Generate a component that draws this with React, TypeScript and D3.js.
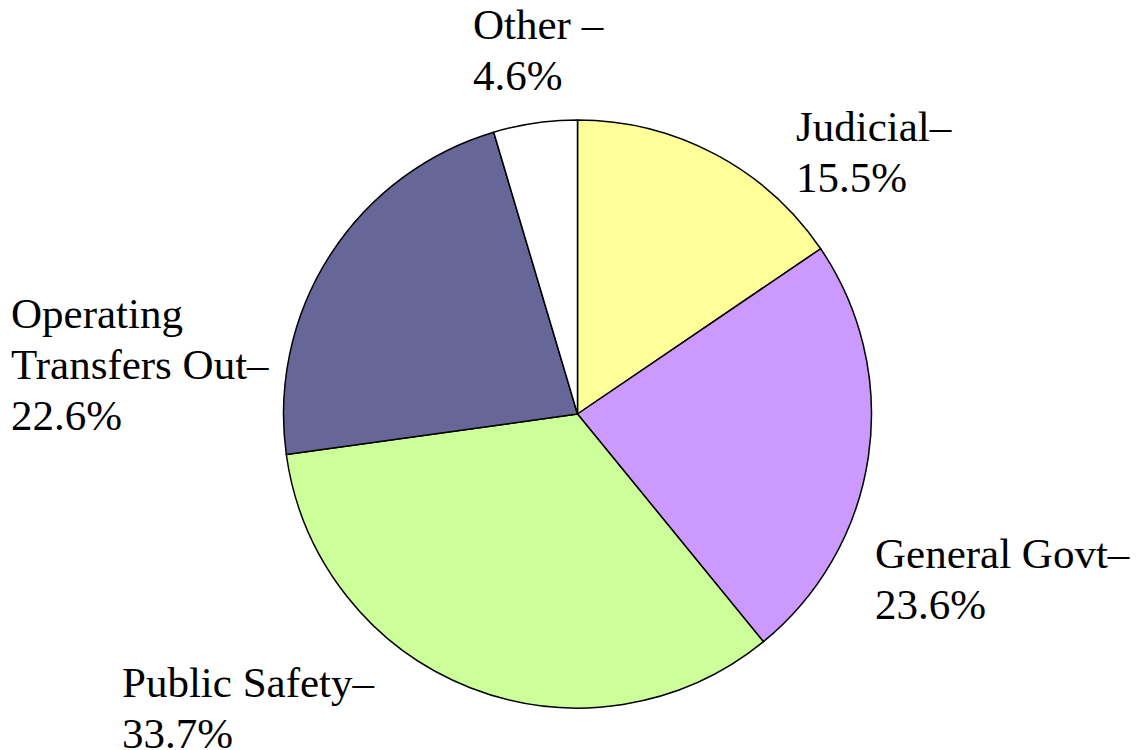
import { useRef, useEffect } from 'react'
import * as d3 from 'd3'

// slices, clockwise from 12 o'clock
const categories = ['Judicial', 'General Govt', 'Public Safety', 'Operating Transfers Out', 'Other']
const shares = [15.5, 23.6, 33.7, 22.6, 4.6]
const colors = ['#FFFF99', '#CC99FF', '#CCFF99', '#666699', '#FFFFFF']
// label lines as shown on the slide
const labelLines = [
  ['Judicial–', '15.5%'],
  ['General Govt–', '23.6%'],
  ['Public Safety–', '33.7%'],
  ['Operating', 'Transfers Out–', '22.6%'],
  ['Other –', '4.6%'],
]
// label anchor (left x, first baseline)
const labelAnchors: [number, number][] = [
  [796, 141],
  [875, 568],
  [122, 697],
  [11, 328],
  [473, 39],
]

export default function App() {
  const svgRef = useRef<SVGSVGElement>(null)

  useEffect(() => {
    if (!svgRef.current) return
    const w = 1138
    const h = 750
    const svg = d3.select(svgRef.current)
    svg.selectAll('*').remove()
    svg.attr('width', w).attr('height', h)

    const cx = 577.5
    const cy = 414
    const r = 294

    const data = categories.map((c, i) => ({ name: c, value: shares[i], i }))
    const pie = d3
      .pie<{ name: string; value: number; i: number }>()
      .sort(null)
      .value((d) => d.value)
      .startAngle(0)
      .endAngle(2 * Math.PI)

    const arc = d3.arc<d3.PieArcDatum<{ name: string; value: number; i: number }>>().innerRadius(0).outerRadius(r)

    const g = svg.append('g').attr('transform', `translate(${cx}, ${cy})`)
    g.selectAll('path')
      .data(pie(data))
      .join('path')
      .attr('d', (d) => arc(d) ?? '')
      .attr('fill', (d) => colors[d.data.i])
      .attr('stroke', '#000')
      .attr('stroke-width', 1.5)
      .attr('stroke-linejoin', 'round')

    const lineH = 51
    labelLines.forEach((lines, i) => {
      const [x, y] = labelAnchors[i]
      const t = svg
        .append('text')
        .style('font-family', "'Liberation Serif', 'DejaVu Serif', serif")
        .style('font-size', '43px')
        .attr('fill', '#000')
      lines.forEach((ln, k) => {
        t.append('tspan').attr('x', x).attr('y', y + k * lineH).text(ln)
      })
    })

    return () => {
      svg.selectAll('*').remove()
    }
  }, [])

  return (
    <div style={{ position: 'absolute', left: 0, top: 0, background: '#fff' }}>
      <svg ref={svgRef} style={{ display: 'block' }} />
    </div>
  )
}
